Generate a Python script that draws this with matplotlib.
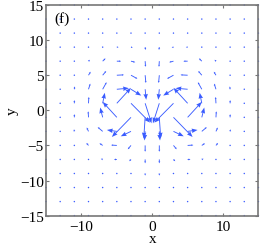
import numpy as np
import matplotlib
matplotlib.use('Agg')
import matplotlib.pyplot as plt

# grid of arrow tails
x_grid = np.arange(-15, 16, 2)
y_grid = np.arange(15, -16, -2)

# vector components, rows from y=15 down to y=-15
u_rows = [
    [0] * 16,
    [0] * 16,
    [0, 0, 0, 0, 0, 0, 0.1, 0, 0, -0.1, 0, 0, 0, 0, 0, 0],
    [0, 0, 0, 0.05, 0.15, 0.25, 0.25, 0.05, -0.05, -0.25, -0.25, -0.15, -0.05, 0, 0, 0],
    [0, 0, 0.1, 0.2, 0.4, 0.6, 0.6, 0.05, -0.05, -0.6, -0.6, -0.4, -0.2, -0.1, 0, 0],
    [0, 0, 0.1, 0.3, 0.5, 1.0, 0.9, 0.1, -0.1, -0.9, -1.0, -0.5, -0.3, -0.1, 0, 0],
    [0, 0, 0.05, 0.25, 0.55, 1.7, 1.45, 0.15, -0.15, -1.45, -1.7, -0.55, -0.25, -0.05, 0, 0],
    [0, 0, 0, 0.05, 0.3, 2.0, 2.7, 0.9, -0.9, -2.7, -2.0, -0.3, -0.05, 0, 0, 0],
    [0, 0, 0, -0.05, -0.35, -2.0, -2.7, -0.2, 0.2, 2.7, 2.0, 0.35, 0.05, 0, 0, 0],
    [0, 0, -0.05, -0.25, -0.7, -1.4, -1.45, -0.1, 0.1, 1.45, 1.4, 0.7, 0.25, 0.05, 0, 0],
    [0, 0, -0.05, -0.3, -0.45, -0.8, -0.45, 0, 0, 0.45, 0.8, 0.45, 0.3, 0.05, 0, 0],
    [0, 0, 0, -0.1, -0.25, -0.4, -0.25, 0, 0, 0.25, 0.4, 0.25, 0.1, 0, 0, 0],
    [0, 0, 0, 0, -0.05, -0.2, -0.15, 0, 0, 0.15, 0.2, 0.05, 0, 0, 0, 0],
    [0] * 16,
    [0] * 16,
    [0] * 16,
]
v_rows = [
    [0] * 16,
    [0] * 16,
    [0, 0, 0, 0, 0, 0, 0, -0.15, -0.15, 0, 0, 0, 0, 0, 0, 0],
    [0, 0, 0, 0.05, 0.1, 0, -0.05, -0.4, -0.4, -0.05, 0, 0.1, 0.05, 0, 0, 0],
    [0, 0, 0.1, 0.2, 0.4, 0, -0.15, -0.8, -0.8, -0.15, 0, 0.4, 0.2, 0.1, 0, 0],
    [0, 0, 0.15, 0.5, 0.6, 0.05, -0.5, -1.1, -1.1, -0.5, 0.05, 0.6, 0.5, 0.15, 0, 0],
    [0, 0.1, 0.4, 0.8, 1.0, 0.15, -0.9, -1.5, -1.5, -0.9, 0.15, 1.0, 0.8, 0.4, 0.1, 0],
    [0, 0.15, 0.45, 0.9, 1.5, 2.2, -2.75, -2.85, -2.85, -2.75, 2.2, 1.5, 0.9, 0.45, 0.15, 0],
    [0, 0.15, 0.45, 0.85, 1.4, 2.2, -2.8, -3.0, -3.0, -2.8, 2.2, 1.4, 0.85, 0.45, 0.15, 0],
    [0, 0.05, 0.3, 0.55, 0.6, 0.2, -0.7, -1.3, -1.3, -0.7, 0.2, 0.6, 0.55, 0.3, 0.05, 0],
    [0, 0, 0.1, 0.35, 0.3, 0.05, -0.55, -0.9, -0.9, -0.55, 0.05, 0.3, 0.35, 0.1, 0, 0],
    [0, 0, 0, 0.1, 0.1, 0, -0.25, -0.55, -0.55, -0.25, 0, 0.1, 0.1, 0, 0, 0],
    [0, 0, 0, 0, 0, 0, -0.1, -0.3, -0.3, -0.1, 0, 0, 0, 0, 0, 0],
    [0, 0, 0, 0, 0, 0, 0, -0.1, -0.1, 0, 0, 0, 0, 0, 0, 0],
    [0] * 16,
    [0] * 16,
]

X, Y = np.meshgrid(x_grid, y_grid)
U = np.array(u_rows, dtype=float)
V = np.array(v_rows, dtype=float)
mag = np.hypot(U, V)
big = mag >= 1.2

plt.rcParams['font.family'] = ['Liberation Serif', 'DejaVu Serif']
fig = plt.figure(figsize=(2.6, 2.51), dpi=100)
ax = fig.add_axes([0.177, 0.137, 0.817, 0.839])

blue = '#3a5cff'
# long arrows with visible heads
ax.quiver(X[big], Y[big], U[big], V[big], angles='xy', scale_units='xy', scale=1,
          color=blue, width=0.0042, headwidth=5, headlength=6.5,
          headaxislength=6, clip_on=False)
# short arrows: mostly shaft with a tiny head, near-zero ones as dots
ax.quiver(X[~big], Y[~big], U[~big], V[~big], angles='xy', scale_units='xy', scale=1,
          color=blue, width=0.0042, headwidth=2.2, headlength=2.2,
          headaxislength=2, minshaft=1, minlength=1.8, clip_on=False)

ax.set_xlim(-15, 15)
ax.set_ylim(-15, 15)
ax.set_xticks([-10, 0, 10])
ax.set_yticks(range(-15, 16, 5))
ax.tick_params(direction='in', top=True, right=True, length=2.5,
               width=0.8, labelsize=11, color='#777777')
ax.tick_params(axis='y', pad=1.5)
for s in ax.spines.values():
    s.set_color('#777777')
    s.set_linewidth(1.2)

ax.set_xlabel('x', fontsize=11, labelpad=-1)
ax.set_ylabel('y', fontsize=11, labelpad=1)
ax.text(-13.8, 13.2, '(f)', fontsize=11, va='center')

fig.savefig('out.png', dpi=100)
